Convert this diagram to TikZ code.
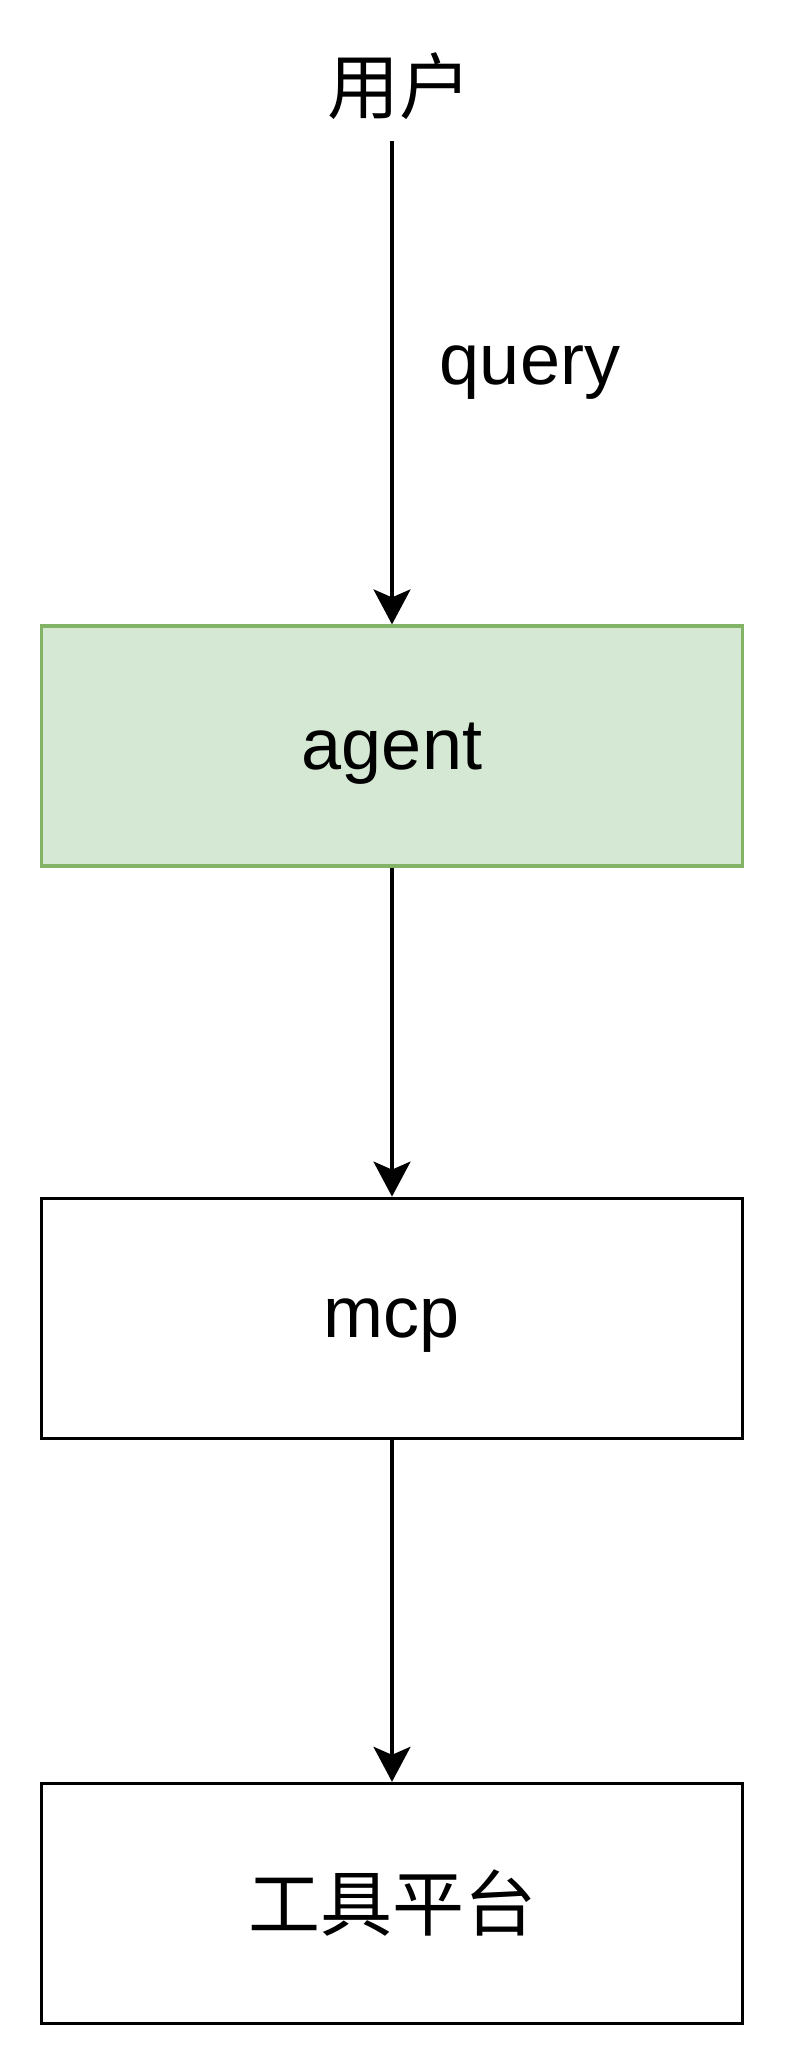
\documentclass[tikz,border=0pt]{standalone}
\usepackage{fontspec}
\setmainfont{Liberation Sans}
\newfontfamily\cjkfont{Noto Sans CJK SC}
\usetikzlibrary{arrows.meta,positioning}
\definecolor{agentfill}{HTML}{D5E8D4}
\definecolor{agentline}{HTML}{82B366}

\begin{document}
\begin{tikzpicture}[
    x=1pt, y=1pt,
    font=\fontsize{72}{80}\selectfont,
    box/.style={draw, line width=3.2pt, minimum width=701pt, minimum height=240pt, inner sep=0pt, align=center},
    agentbox/.style={box, draw=agentline, fill=agentfill},
    arrow/.style={-{Stealth[length=35pt, width=37pt, inset=8pt]}, line width=3.2pt}
]
\useasboundingbox (0,0) rectangle (788,-2064);
\node[font=\cjkfont\fontsize{72}{80}\selectfont] (user) at (399,-86) {用户};
\node[agentbox, text depth=0pt] (agent) at (392,-746) {agent};
\node[box, text depth=0pt, below=329pt of agent] (mcp) {mcp};
\node[box, below=342pt of mcp] (tools) {\cjkfont 工具平台};
\draw[arrow] ([yshift=-18pt]agent.north |- user.south) -- (agent.north)
    node[pos=0.48, anchor=west, xshift=43pt] (query) {query};
\draw[arrow] (agent) -- (mcp);
\draw[arrow] (mcp) -- (tools);
\end{tikzpicture}
\end{document}
